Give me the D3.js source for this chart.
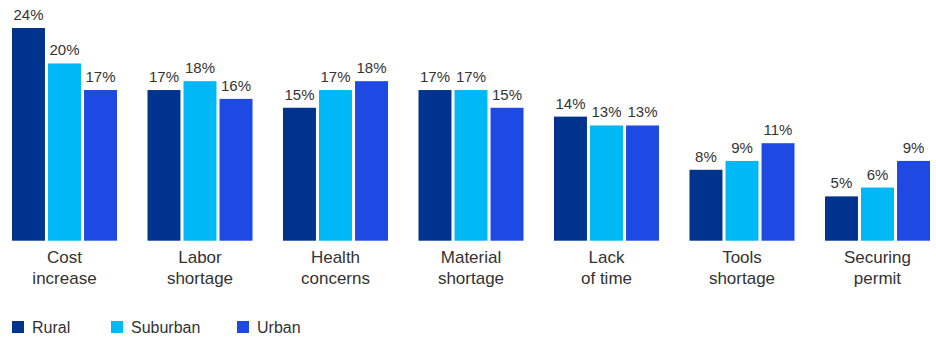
<!DOCTYPE html>
<html>
<head>
<meta charset="utf-8">
<script src="https://cdn.jsdelivr.net/npm/d3@7"></script>
<style>
  html, body { margin: 0; padding: 0; background: #fff; }
  svg { display: block; font-family: "Liberation Sans", Arial, sans-serif; }
</style>
</head>
<body>
<svg id="chart" width="936" height="339"></svg>
<script>
const categories = [
  ["Cost", "increase"],
  ["Labor", "shortage"],
  ["Health", "concerns"],
  ["Material", "shortage"],
  ["Lack", "of time"],
  ["Tools", "shortage"],
  ["Securing", "permit"]
];
const seriesNames = ["Rural", "Suburban", "Urban"];
const rural    = [24, 17, 15, 17, 14, 8, 5];
const suburban = [20, 18, 17, 17, 13, 9, 6];
const urban    = [17, 16, 18, 15, 13, 11, 9];
const colors = ["#00338D", "#00B8F5", "#1E49E2"];

const values = [rural, suburban, urban];
const svg = d3.select("#chart");

const x0 = d3.scaleBand()
  .domain(d3.range(categories.length))
  .range([12, 930])
  .paddingInner(0.225)
  .paddingOuter(0);
const x1 = d3.scaleBand()
  .domain(d3.range(seriesNames.length))
  .range([0, x0.bandwidth()])
  .paddingInner(0.085)
  .paddingOuter(0);
const y = d3.scaleLinear().domain([0, 24]).range([240.7, 28]);

const groups = svg.selectAll("g.group")
  .data(categories)
  .join("g")
  .attr("class", "group")
  .attr("transform", (d, i) => `translate(${x0(i)},0)`);

groups.each(function(cat, ci) {
  const g = d3.select(this);
  seriesNames.forEach((s, si) => {
    const v = values[si][ci];
    g.append("rect")
      .attr("x", x1(si))
      .attr("y", y(v))
      .attr("width", x1.bandwidth())
      .attr("height", y(0) - y(v))
      .attr("fill", colors[si]);
    g.append("text")
      .attr("x", x1(si) + x1.bandwidth() / 2)
      .attr("y", y(v) - 8)
      .attr("text-anchor", "middle")
      .attr("font-size", 15)
      .attr("fill", "#333")
      .text(v + "%");
  });
  const t = g.append("text")
    .attr("text-anchor", "middle")
    .attr("font-size", 17)
    .attr("fill", "#333");
  cat.forEach((line, li) => {
    t.append("tspan")
      .attr("x", x0.bandwidth() / 2)
      .attr("y", 263 + li * 20.5)
      .text(line);
  });
});

// Legend
const legendX = [12, 111, 237];
const legend = svg.selectAll("g.legend")
  .data(seriesNames)
  .join("g")
  .attr("class", "legend")
  .attr("transform", (d, i) => `translate(${legendX[i]},321)`);
legend.append("rect")
  .attr("width", 12).attr("height", 12)
  .attr("fill", (d, i) => colors[i]);
legend.append("text")
  .attr("x", 20).attr("y", 12.3)
  .attr("font-size", 16)
  .attr("fill", "#333")
  .text(d => d);
</script>
</body>
</html>
